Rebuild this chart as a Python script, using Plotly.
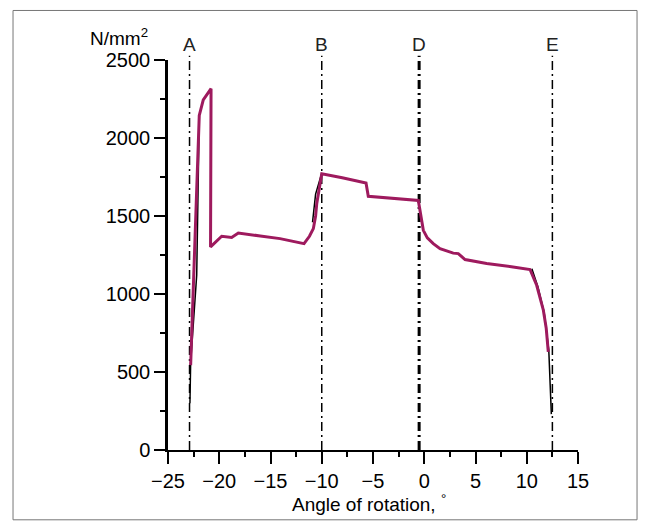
import plotly.graph_objects as go

# Smoothed stress curve (magenta)
angle = [-22.79, -21.95, -21.56, -20.80, -20.85, -19.76, -18.79, -18.14, -16.0, -14.07,
         -11.73, -11.2, -10.82, -10.6, -10.49, -10.25, -10.0, -8.0, -5.68, -5.46,
         -3.02, -0.58, -0.09, 0.30, 0.88, 1.54, 2.83, 3.32, 3.98, 6.09,
         8.5, 10.32, 10.97, 11.62, 11.9, 12.1]
stress = [544, 2145, 2245, 2316, 1302, 1370, 1362, 1391, 1372, 1355,
          1323, 1370, 1419, 1500, 1579, 1680, 1771, 1745, 1711, 1626,
          1611, 1600, 1408, 1360, 1323, 1291, 1262, 1259, 1221, 1195,
          1175, 1157, 1056, 896, 780, 629]

# Raw measured data fragments (black), visible where they leave the smoothed curve
raw_angle = [-22.86, -22.79, -22.2, -22.15, -21.95, None,
             -10.9, -10.6, -10.0, None,
             10.5, 11.1, 11.7, 12.15, 12.4]
raw_stress = [300, 560, 1120, 1290, 2145, None,
              1460, 1640, 1775, None,
              1162, 1044, 880, 640, 230]

# Reference positions (vertical dash-dot lines)
mark_labels = ["A", "B", "D", "E"]
mark_angle = [-22.9, -10.0, -0.5, 12.5]
mark_width = [1.5, 1.5, 3.0, 1.5]

x_ticks = [-25, -20, -15, -10, -5, 0, 5, 10, 15]
y_ticks = [0, 500, 1000, 1500, 2000, 2500]

FONT = "Liberation Sans, Arial, sans-serif"

fig = go.Figure()
fig.add_trace(go.Scatter(x=raw_angle, y=raw_stress, mode="lines",
                         line=dict(color="black", width=1.5), hoverinfo="skip",
                         showlegend=False))
fig.add_trace(go.Scatter(x=angle, y=stress, mode="lines",
                         line=dict(color="#9e1a5e", width=3), showlegend=False))

for lab, xv, w in zip(mark_labels, mark_angle, mark_width):
    fig.add_shape(type="line", xref="x", yref="paper", x0=xv, x1=xv, y0=0, y1=1.011,
                  line=dict(color="black", width=w, dash="9px,4px,2px,4px"), layer="below")
    fig.add_annotation(x=xv, y=1.008, xref="x", yref="paper", text=lab, showarrow=False,
                       yanchor="bottom", font=dict(size=19, color="#222", family=FONT))

# outer frame
fig.add_shape(type="rect", xref="paper", yref="paper", x0=-0.378, x1=1.144, y0=-0.179, y1=1.127,
              line=dict(color="#777777", width=1), fillcolor="rgba(0,0,0,0)")

fig.add_annotation(x=-0.044, y=1.06, xref="paper", yref="paper", text="N/mm<sup>2</sup>",
                   showarrow=False, xanchor="right", yanchor="middle",
                   font=dict(size=19, color="black", family=FONT))
fig.add_annotation(x=0.49, y=-0.135, xref="paper", yref="paper",
                   text="Angle of rotation, <sup>°</sup>", showarrow=False,
                   xanchor="center", yanchor="middle", font=dict(size=19, color="black", family=FONT))

fig.update_layout(
    width=652, height=529,
    margin=dict(l=160, r=82, t=52, b=87),
    paper_bgcolor="white", plot_bgcolor="white",
    font=dict(family=FONT, size=20, color="black"),
    xaxis=dict(range=[-25, 15], tickvals=x_ticks, ticktext=[str(v).replace("-", "\u2212") for v in x_ticks],
               showgrid=False, zeroline=False, showline=True, linecolor="black", linewidth=1.5,
               ticks="outside", ticklen=12, tickwidth=1.5, tickcolor="black",
               tickfont=dict(size=20, family=FONT),
               minor=dict(dtick=2.5, tick0=0, ticks="outside", ticklen=5, tickwidth=1.5, tickcolor="black")),
    yaxis=dict(range=[0, 2500], tickvals=y_ticks, showgrid=False, zeroline=False,
               showline=True, linecolor="black", linewidth=2.5,
               ticks="outside", ticklen=11, tickwidth=1.5, tickcolor="black",
               tickfont=dict(size=20, family=FONT),
               minor=dict(dtick=250, tick0=0, ticks="outside", ticklen=5, tickwidth=1.5, tickcolor="black")),
)

fig.write_html("out.html")
